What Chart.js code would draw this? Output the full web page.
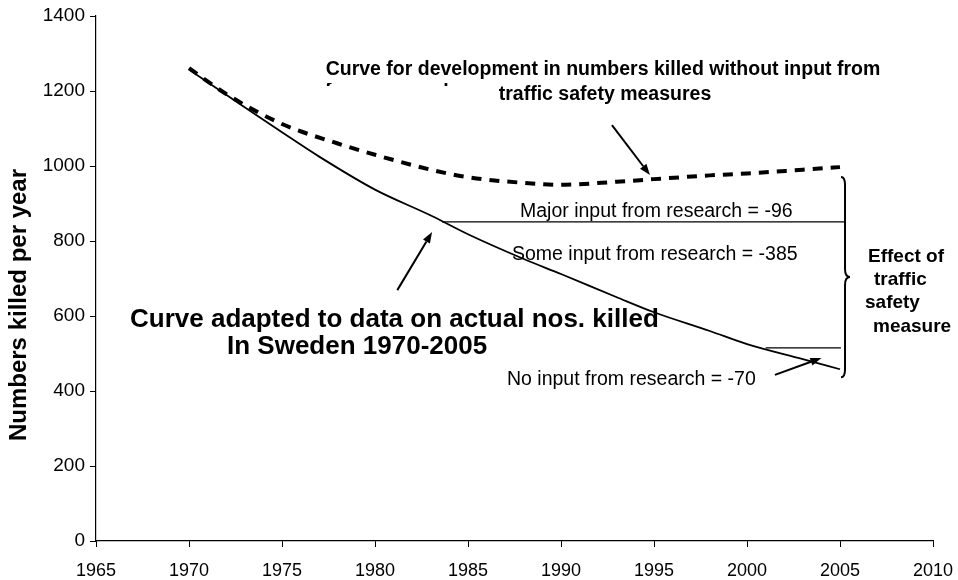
<!DOCTYPE html>
<html>
<head>
<meta charset="utf-8">
<script src="https://cdn.jsdelivr.net/npm/chart.js@4.4.0/dist/chart.umd.min.js"></script>
<style>
  html, body { margin: 0; padding: 0; background: #fff; }
</style>
</head>
<body>
<canvas id="chart" width="958" height="580"></canvas>
<script>
// Values
var fitYears = [1970, 1972, 1975, 1977, 1980, 1983, 1985, 1988, 1990, 1993, 1995, 1998, 2000, 2003, 2005];
var fitKilled = [1257, 1190, 1090, 1025, 937, 868, 818, 752, 712, 650, 610, 560, 525, 485, 458];

var noMeasureYears = [1970, 1972, 1975, 1978, 1980, 1983, 1985, 1988, 1990, 1993, 1995, 1998, 2000, 2003, 2005];
var noMeasureKilled = [1261, 1192, 1112, 1060, 1030, 990, 970, 955, 950, 958, 965, 975, 980, 990, 997];

var xTicks = [1965, 1970, 1975, 1980, 1985, 1990, 1995, 2000, 2005, 2010];
var yTicks = [0, 200, 400, 600, 800, 1000, 1200, 1400];

// levels of the two horizontal marker lines (major input / no input)
var majorLevel = 851;
var noInputLevel = 515;

function toPoints(xs, ys) {
  return xs.map(function (x, i) { return { x: x, y: ys[i] }; });
}

var FONT = 'Arial, "Liberation Sans", sans-serif';

function arrow(ctx, x1, y1, x2, y2) {
  var a = Math.atan2(y2 - y1, x2 - x1);
  var len = 11, w = 4;
  var bx = x2 - len * Math.cos(a), by = y2 - len * Math.sin(a);
  ctx.beginPath();
  ctx.moveTo(x1, y1);
  ctx.lineTo(bx, by);
  ctx.stroke();
  ctx.beginPath();
  ctx.moveTo(x2, y2);
  ctx.lineTo(bx + w * Math.sin(a), by - w * Math.cos(a));
  ctx.lineTo(bx - w * Math.sin(a), by + w * Math.cos(a));
  ctx.closePath();
  ctx.fill();
}

function text(ctx, s, x, y, font, align) {
  ctx.font = font;
  ctx.textAlign = align || 'left';
  ctx.textBaseline = 'middle';
  ctx.fillText(s, x, y);
}

var notes = {
  id: 'notes',
  afterDatasetsDraw: function (chart) {
    var ctx = chart.ctx;
    var xs = chart.scales.x, ys = chart.scales.y;
    function px(v) { return xs.getPixelForValue(v); }
    function py(v) { return ys.getPixelForValue(v); }

    ctx.save();
    ctx.strokeStyle = '#000';
    ctx.fillStyle = '#000';

    // marker lines
    ctx.lineWidth = 1.2;
    ctx.beginPath();
    ctx.moveTo(px(1983.6), py(majorLevel));
    ctx.lineTo(px(2005.3), py(majorLevel));
    ctx.moveTo(px(2001.0), py(noInputLevel));
    ctx.lineTo(px(2005.05), py(noInputLevel));
    ctx.stroke();

    // arrows
    ctx.lineWidth = 2;
    arrow(ctx, px(1992.74), py(1109), px(1994.78), py(976));
    arrow(ctx, px(1981.2), py(669), px(1983.07), py(824));
    arrow(ctx, px(2001.5), py(443), px(2004.0), py(488));

    // brace
    var xb = px(2005.27), yt = py(971), yb = py(437), ym = (yt + yb) / 2;
    ctx.lineWidth = 2;
    ctx.beginPath();
    ctx.moveTo(xb - 4, yt);
    ctx.quadraticCurveTo(xb, yt, xb, yt + 8);
    ctx.lineTo(xb, ym - 8);
    ctx.quadraticCurveTo(xb, ym, xb + 5, ym);
    ctx.quadraticCurveTo(xb, ym, xb, ym + 8);
    ctx.lineTo(xb, yb - 8);
    ctx.quadraticCurveTo(xb, yb, xb - 4, yb);
    ctx.stroke();

    // texts
    var bold19 = 'bold 19.5px ' + FONT;
    var reg19 = '19.5px ' + FONT;
    var bold26 = 'bold 26px ' + FONT;
    text(ctx, 'Curve for development in numbers killed without input from', 603, 70, bold19, 'center');

    // hidden line of the title box, only the tops of tall letters show
    ctx.save();
    ctx.beginPath();
    ctx.rect(320, 83, 160, 3);
    ctx.clip();
    ctx.font = bold19;
    ctx.textAlign = 'left';
    ctx.textBaseline = 'alphabetic';
    ctx.fillText('from research', 325, 97);
    ctx.restore();

    text(ctx, 'traffic safety measures', 605, 95, bold19, 'center');
    text(ctx, 'Major input from research = -96', 520, 212, reg19);
    text(ctx, 'Some input from research = -385', 512, 255, reg19);
    text(ctx, 'Curve adapted to data on actual nos. killed', 130, 320, bold26);
    text(ctx, 'In Sweden 1970-2005', 227, 347, bold26);
    text(ctx, 'No input from research = -70', 507, 380, reg19);
    text(ctx, 'Effect of', 868, 257, 'bold 19px ' + FONT);
    text(ctx, 'traffic', 874, 280, 'bold 19px ' + FONT);
    text(ctx, 'safety', 865, 303, 'bold 19px ' + FONT);
    text(ctx, 'measure', 873, 327, 'bold 19px ' + FONT);

    // y axis title
    ctx.save();
    ctx.translate(19, 305);
    ctx.rotate(-Math.PI / 2);
    text(ctx, 'Numbers killed per year', 0, 0, 'bold 24px ' + FONT, 'center');
    ctx.restore();

    ctx.restore();
  }
};

var ctx = document.getElementById('chart');
var chart = new Chart(ctx, {
  type: 'line',
  data: {
    datasets: [{
      label: 'Fitted curve',
      data: toPoints(fitYears, fitKilled),
      borderColor: '#000',
      borderWidth: 1.8,
      cubicInterpolationMode: 'monotone',
      pointRadius: 0,
      fill: false
    }, {
      label: 'Without measures',
      data: toPoints(noMeasureYears, noMeasureKilled),
      borderColor: '#000',
      borderWidth: 4,
      borderDash: [10, 8],
      borderCapStyle: 'butt',
      cubicInterpolationMode: 'monotone',
      pointRadius: 0,
      fill: false
    }]
  },
  options: {
    responsive: false,
    animation: false,
    layout: { padding: { top: 16, right: 25, left: 0, bottom: 0 } },
    plugins: {
      legend: { display: false },
      tooltip: { enabled: false }
    },
    scales: {
      x: {
        type: 'linear',
        min: 1965,
        max: 2010,
        afterBuildTicks: function (s) { s.ticks = xTicks.map(function (v) { return { value: v }; }); },
        ticks: {
          color: '#000',
          font: { family: FONT, size: 18 },
          padding: 13,
          maxRotation: 0,
          autoSkip: false,
          callback: function (v) { return String(v); }
        },
        grid: { drawOnChartArea: false, color: '#000', tickColor: '#000', tickLength: 6 },
        border: { color: '#000', width: 1.2 },
        afterFit: function (s) {
          s.height = 39;
          s.paddingLeft = 0;
          s.paddingRight = 0;
        }
      },
      y: {
        min: 0,
        max: 1400,
        afterBuildTicks: function (s) { s.ticks = yTicks.map(function (v) { return { value: v }; }); },
        ticks: {
          color: '#000',
          font: { family: FONT, size: 19 },
          padding: 5,
          autoSkip: false,
          callback: function (v) { return String(v); }
        },
        grid: { drawOnChartArea: false, color: '#000', tickColor: '#000', tickLength: 6 },
        border: { color: '#000', width: 1.2 },
        afterFit: function (s) {
          s.width = 96;
          s.paddingTop = 0;
          s.paddingBottom = 0;
        }
      }
    }
  },
  plugins: [notes]
});
</script>
</body>
</html>
